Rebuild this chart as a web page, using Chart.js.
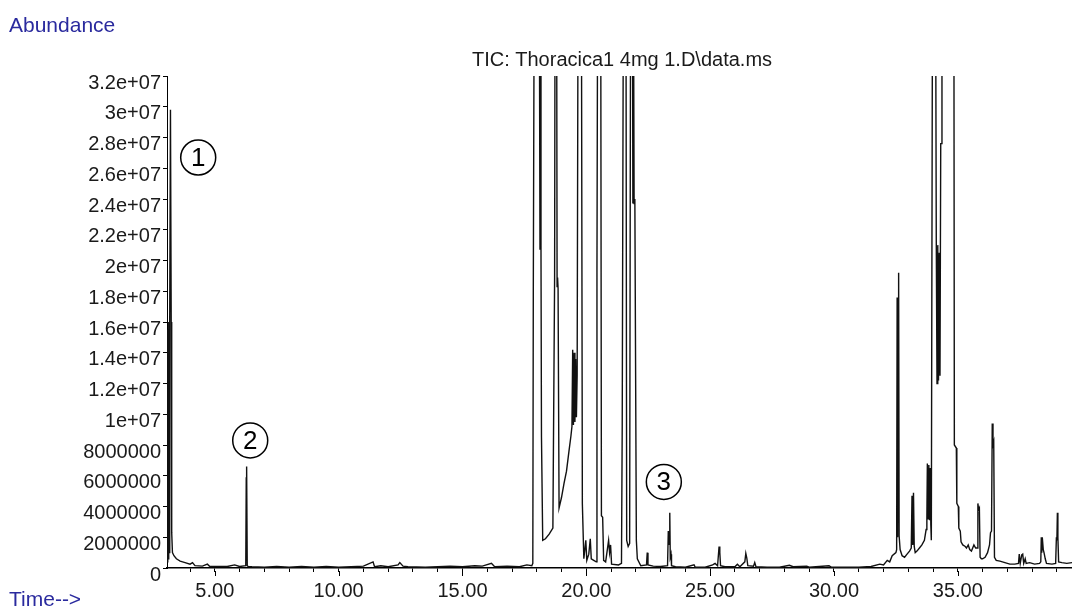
<!DOCTYPE html>
<html>
<head>
<meta charset="utf-8">
<script src="https://cdn.jsdelivr.net/npm/chart.js@4.4.1/dist/chart.umd.min.js"></script>
<style>
  html, body { margin: 0; padding: 0; background: #fff; }
  canvas { display: block; }
</style>
</head>
<body>
<canvas id="tic" width="1072" height="612"></canvas>
<script>
// retention time (min) and abundance (millions of counts)
// peaks that run off the top of the plot are given 40 so the library clips them
const retentionTimes = [
  3.07, 3.10, 3.12, 3.14, 3.16, 3.18, 3.21, 3.24, 3.26, 3.29, 3.35, 3.45, 3.60, 3.80,
  4.00, 4.10, 4.20, 4.50, 4.70, 4.80, 5.50, 5.80, 6.00, 6.25, 6.27, 6.28, 6.29, 6.31,
  6.35, 6.50, 7.00, 7.50, 8.00, 8.50, 9.00, 9.50, 10.00, 10.50, 11.00, 11.39, 11.45,
  11.70, 12.00, 12.40, 12.47, 12.60, 12.80, 13.50, 14.00, 14.50, 15.00, 15.50, 15.80,
  16.17, 16.30, 16.80, 17.30, 17.60, 17.80, 17.84, 17.86, 17.90, 18.10, 18.13, 18.15,
  18.17, 18.19, 18.24, 18.35, 18.50, 18.65, 18.72, 18.74, 18.80, 18.82, 18.84, 18.86,
  18.90, 19.00, 19.10, 19.20, 19.30, 19.38, 19.42, 19.45, 19.48, 19.51, 19.54, 19.57,
  19.60, 19.63, 19.67, 19.80, 19.84, 19.90, 19.98, 20.02, 20.10, 20.16, 20.20, 20.30,
  20.40, 20.43, 20.46, 20.58, 20.61, 20.66, 20.70, 20.78, 20.90, 20.94, 20.98, 21.02,
  21.30, 21.42, 21.45, 21.50, 21.60, 21.63, 21.69, 21.75, 21.79, 21.86, 21.88, 21.90,
  21.93, 21.96, 22.02, 22.06, 22.20, 22.43, 22.46, 22.49, 22.70, 23.00, 23.28, 23.31,
  23.33, 23.35, 23.37, 23.39, 23.42, 23.44, 23.60, 24.00, 24.35, 24.40, 24.80, 25.10,
  25.20, 25.30, 25.36, 25.39, 25.42, 25.60, 26.00, 26.10, 26.20, 26.40, 26.44, 26.48,
  26.52, 26.75, 26.80, 26.85, 27.30, 27.80, 28.20, 28.35, 28.90, 29.00, 29.40, 29.80,
  29.90, 30.50, 31.00, 31.50, 31.85, 32.00, 32.15, 32.25, 32.35, 32.50, 32.53, 32.55,
  32.57, 32.59, 32.61, 32.63, 32.67, 32.75, 32.85, 32.95, 33.05, 33.12, 33.15, 33.18,
  33.21, 33.24, 33.28, 33.35, 33.45, 33.55, 33.65, 33.72, 33.75, 33.77, 33.80, 33.83,
  33.86, 33.89, 33.91, 33.93, 33.98, 34.10, 34.13, 34.16, 34.19, 34.22, 34.25, 34.28,
  34.31, 34.33, 34.36, 34.84, 34.86, 34.94, 34.96, 35.02, 35.04, 35.10, 35.13, 35.20,
  35.30, 35.35, 35.42, 35.48, 35.55, 35.60, 35.65, 35.72, 35.78, 35.81, 35.84, 35.87,
  35.90, 35.95, 36.00, 36.10, 36.20, 36.28, 36.32, 36.36, 36.39, 36.42, 36.45, 36.48,
  36.55, 36.70, 36.90, 37.10, 37.30, 37.45, 37.48, 37.52, 37.58, 37.62, 37.66, 37.72,
  37.76, 37.90, 38.10, 38.30, 38.35, 38.37, 38.39, 38.41, 38.45, 38.48, 38.53, 38.58,
  38.80, 38.95, 38.98, 39.00, 39.02, 39.04, 39.07, 39.20, 39.40, 39.61
];
const abundanceMillions = [
  0.4, 15.5, 0.6, 16.0, 1.0, 16.2, 29.8, 16.0, 2.3, 1.0, 0.8, 0.6, 0.45, 0.35,
  0.25, 0.35, 0.15, 0.12, 0.25, 0.1, 0.1, 0.2, 0.1, 0.15, 5.9, 2.0, 6.6, 0.15,
  0.1, 0.08, 0.05, 0.1, 0.05, 0.1, 0.05, 0.1, 0.05, 0.08, 0.12, 0.4, 0.08,
  0.15, 0.08, 0.2, 0.35, 0.12, 0.08, 0.05, 0.08, 0.12, 0.08, 0.15, 0.12,
  0.3, 0.08, 0.12, 0.08, 0.2, 0.15, 0.3, 18.3, 40, 40, 20.7, 40,
  20.7, 8.5, 1.8, 1.9, 2.2, 2.6, 18.9, 40, 40, 18.3, 18.9, 18.2,
  3.9, 4.6, 5.5, 6.3, 7.6, 8.6, 9.2, 14.2, 9.3, 14.0, 9.5, 13.6,
  9.8, 12.5, 40, 40, 4.2, 0.6, 1.8, 0.5, 0.9, 1.9, 0.6, 0.5,
  0.4, 19.4, 40, 40, 3.4, 3.3, 0.5, 0.4, 1.8, 1.0, 1.5, 0.25,
  0.2, 0.3, 9.3, 40, 40, 1.8, 1.4, 1.6, 40, 40, 23.7, 40,
  23.7, 24.0, 1.8, 0.6, 0.15, 0.2, 1.0, 0.2, 0.12, 0.1, 0.15, 2.4,
  1.5, 2.3, 3.6, 0.7, 0.9, 0.15, 0.08, 0.05, 0.2, 0.05, 0.05, 0.2,
  0.3, 0.15, 1.4, 1.0, 0.15, 0.08, 0.08, 0.25, 0.08, 0.4, 0.95, 0.65,
  0.15, 0.12, 0.35, 0.08, 0.05, 0.05, 0.18, 0.08, 0.12, 0.05, 0.1, 0.15,
  0.05, 0.05, 0.05, 0.1, 0.25, 0.2, 0.5, 0.4, 0.8, 1.0, 1.2, 17.6,
  2.0, 17.5, 19.2, 2.1, 1.2, 0.8, 0.7, 0.9, 1.1, 1.3, 4.7, 1.5,
  4.9, 1.4, 1.0, 1.1, 1.3, 1.5, 1.8, 2.5, 3.2, 6.8, 3.2, 6.7,
  3.1, 6.5, 2.8, 1.8, 40, 40, 21.3, 12.0, 21.0, 12.2, 20.5, 12.5,
  27.6, 27.6, 40, 40, 8.0, 7.8, 4.2, 4.0, 2.6, 2.4, 1.7, 1.5,
  1.4, 1.3, 1.5, 1.2, 1.1, 1.3, 1.5, 1.3, 1.3, 4.2, 3.8, 3.9,
  0.7, 0.6, 0.6, 0.7, 1.0, 1.5, 2.3, 2.4, 9.4, 8.0, 8.2, 0.7,
  0.5, 0.45, 0.35, 0.25, 0.25, 0.3, 0.9, 0.3, 0.85, 0.9, 0.3, 0.6,
  0.3, 0.35, 0.25, 0.3, 0.4, 2.0, 1.0, 2.0, 1.2, 1.0, 0.6, 0.3,
  0.25, 0.3, 2.0, 1.8, 3.6, 2.0, 0.4, 0.35, 0.3, 0.35
];

// axis ticks
const yTickValues = [0, 2, 4, 6, 8, 10, 12, 14, 16, 18, 20, 22, 24, 26, 28, 30, 32];
const yTickLabels = [
  "0", "2000000", "4000000", "6000000", "8000000", "1e+07", "1.2e+07", "1.4e+07",
  "1.6e+07", "1.8e+07", "2e+07", "2.2e+07", "2.4e+07", "2.6e+07", "2.8e+07", "3e+07", "3.2e+07"
];
const xTickValues = [
  4, 5, 6, 7, 8, 9, 10, 11, 12, 13, 14, 15, 16, 17, 18, 19, 20, 21,
  22, 23, 24, 25, 26, 27, 28, 29, 30, 31, 32, 33, 34, 35, 36, 37, 38, 39
];
const xLabelValues = [5, 10, 15, 20, 25, 30, 35];
const xTickLabels = ["5.00", "10.00", "15.00", "20.00", "25.00", "30.00", "35.00"];

// circled peak numbers, placed in data units
const markText = ["1", "2", "3"];
const markTimes = [4.33, 6.43, 23.13];
const markLevels = [26.7, 8.3, 5.6];

const X_MIN = 3.07;
const X_MAX = 39.61;
const BLUE = "#2a2a9e";
const FONT = '"Liberation Sans", Arial, sans-serif';

const overlay = {
  id: "overlay",
  afterDraw(chart) {
    const { ctx, scales } = chart;
    const x = scales.x;
    const y = scales.y;
    ctx.save();

    // longer ticks at the labelled minutes
    ctx.strokeStyle = "#000";
    ctx.lineWidth = 1;
    xLabelValues.forEach((v) => {
      const px = Math.round(x.getPixelForValue(v)) + 0.5;
      ctx.beginPath();
      ctx.moveTo(px, y.bottom + 3);
      ctx.lineTo(px, y.bottom + 8);
      ctx.stroke();
    });

    // circled numbers
    ctx.lineWidth = 1.5;
    ctx.textAlign = "center";
    ctx.textBaseline = "middle";
    ctx.fillStyle = "#000";
    ctx.font = "26px " + FONT;
    markText.forEach((t, i) => {
      const px = x.getPixelForValue(markTimes[i]);
      const py = y.getPixelForValue(markLevels[i]);
      ctx.beginPath();
      ctx.arc(px, py, 17.5, 0, Math.PI * 2);
      ctx.stroke();
      ctx.fillText(t, px, py + 1);
    });

    // title
    ctx.fillStyle = "#1a1a1a";
    ctx.font = "20px " + FONT;
    ctx.fillText("TIC: Thoracica1 4mg 1.D\\data.ms", 622, 60);

    // axis names
    ctx.textAlign = "left";
    ctx.fillStyle = BLUE;
    ctx.font = "21px " + FONT;
    ctx.fillText("Abundance", 9, 26);
    ctx.fillText("Time-->", 9, 600);

    ctx.restore();
  },
};

new Chart(document.getElementById("tic"), {
  type: "line",
  data: {
    datasets: [
      {
        data: retentionTimes.map((t, i) => ({ x: t, y: abundanceMillions[i] })),
        borderColor: "#111",
        borderWidth: 1.4,
        pointRadius: 0,
        tension: 0,
        fill: false,
      },
    ],
  },
  options: {
    responsive: false,
    animation: false,
    devicePixelRatio: 1,
    layout: { padding: { top: 76, right: 0, left: 0, bottom: 0 } },
    plugins: {
      legend: { display: false },
      tooltip: { enabled: false },
    },
    scales: {
      x: {
        type: "linear",
        min: X_MIN,
        max: X_MAX,
        afterBuildTicks: (scale) => {
          scale.ticks = xTickValues.map((v) => ({ value: v }));
        },
        afterFit: (scale) => {
          scale.height = 44;
        },
        ticks: {
          autoSkip: false,
          maxRotation: 0,
          padding: 7,
          color: "#1a1a1a",
          font: { family: FONT, size: 20 },
          callback: (v) => {
            const i = xLabelValues.indexOf(v);
            return i >= 0 ? xTickLabels[i] : "";
          },
        },
        grid: {
          drawOnChartArea: false,
          drawTicks: true,
          tickLength: 4,
          color: "#000",
        },
        border: { display: true, color: "#000", width: 1.5 },
      },
      y: {
        min: 0,
        max: 32,
        afterBuildTicks: (scale) => {
          scale.ticks = yTickValues.map((v) => ({ value: v }));
        },
        afterFit: (scale) => {
          scale.width = 167;
        },
        ticks: {
          autoSkip: false,
          padding: 2,
          labelOffset: 7,
          color: "#1a1a1a",
          font: { family: FONT, size: 20 },
          callback: (v) => {
            const i = yTickValues.indexOf(v);
            return i >= 0 ? yTickLabels[i] : "";
          },
        },
        grid: {
          drawOnChartArea: false,
          drawTicks: true,
          tickLength: 4,
          color: "#000",
        },
        border: { display: true, color: "#000", width: 1 },
      },
    },
  },
  plugins: [overlay],
});
</script>
</body>
</html>
